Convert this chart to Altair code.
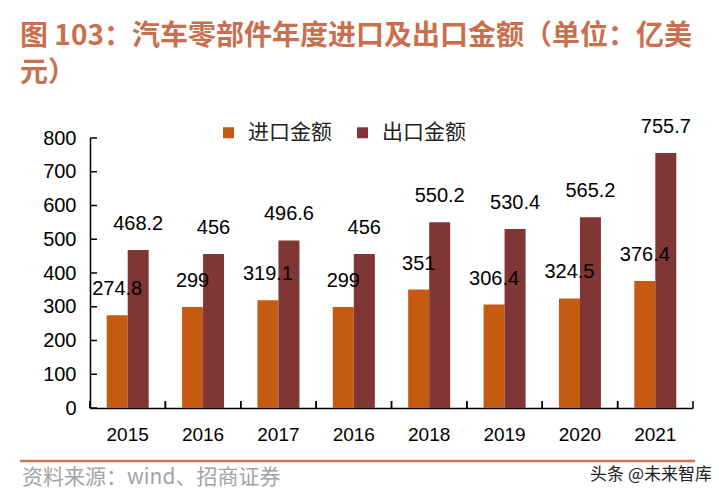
import altair as alt
import pandas as pd

# ---- data ----
years = ["2015", "2016", "2017", "2016", "2018", "2019", "2020", "2021"]
imports = [274.8, 299, 319.1, 299, 351, 306.4, 324.5, 376.4]
exports = [468.2, 456, 496.6, 456, 550.2, 530.4, 565.2, 755.7]
series = ["进口金额", "出口金额"]
y_ticks = [0, 100, 200, 300, 400, 500, 600, 700, 800]

title_lines = ["图 103：汽车零部件年度进口及出口金额（单位：亿美", "元）"]
source_text = "资料来源：wind、招商证券"
watermark = "头条 @未来智库"

# ---- styling ----
ORANGE = "#C55A11"
RED = "#803634"
TITLE_C = "#C96F4E"
W, H = 603, 270
NUM_FONT = "Liberation Sans"
CJK_FONT = "Noto Sans CJK SC"

rows = []
for i, yr in enumerate(years):
    rows.append({"idx": i, "year": yr, "series": series[0], "value": imports[i],
                 "label": f"{imports[i]:g}"})
    rows.append({"idx": i, "year": yr, "series": series[1], "value": exports[i],
                 "label": f"{exports[i]:g}"})
df = pd.DataFrame(rows)

label_expr = "[" + ",".join(f"'{y}'" for y in years) + "][datum.value]"

x_scale = alt.Scale(paddingInner=0, paddingOuter=0)
y_scale = alt.Scale(domain=[0, 800], nice=False)
off_scale = alt.Scale(domain=series, paddingOuter=0.795, paddingInner=0)

x_axis = alt.Axis(labelExpr=label_expr, labelAngle=0, tickSize=0, ticks=False,
                  labelFontSize=19, labelFont=NUM_FONT, labelColor="black",
                  labelPadding=17, domainColor="black", domainWidth=1.5,
                  grid=False, title=None)
y_axis = alt.Axis(values=y_ticks, tickSize=0, ticks=False, labelFontSize=20,
                  labelFont=NUM_FONT, labelColor="black", labelPadding=14,
                  domainColor="black", domainWidth=1.5, grid=False, title=None)

base = alt.Chart(df)

bars = base.mark_bar().encode(
    x=alt.X("idx:O", scale=x_scale, axis=x_axis),
    xOffset=alt.XOffset("series:N", scale=off_scale),
    y=alt.Y("value:Q", scale=y_scale, axis=y_axis),
    color=alt.Color("series:N", scale=alt.Scale(domain=series, range=[ORANGE, RED]),
                    legend=alt.Legend(orient="none", legendX=128, legendY=-16,
                                      direction="horizontal", title=None,
                                      symbolType="square", symbolSize=121,
                                      symbolStrokeWidth=0,
                                      labelFontSize=21, labelFont=CJK_FONT,
                                      labelColor="#222222", columnPadding=20,
                                      labelOffset=9)),
)

texts = base.mark_text(dy=-20, baseline="alphabetic", fontSize=20, font=NUM_FONT,
                       color="black").encode(
    x=alt.X("idx:O", scale=x_scale, axis=x_axis),
    xOffset=alt.XOffset("series:N", scale=off_scale),
    y=alt.Y("value:Q", scale=y_scale, axis=y_axis),
    text="label:N",
)

ytick = alt.Chart(pd.DataFrame({"value": y_ticks})).mark_rule(color="black", strokeWidth=1.5).encode(
    y=alt.Y("value:Q", scale=y_scale, axis=y_axis),
    x=alt.value(0), x2=alt.value(7),
)

xtick = base.mark_rule(color="black", strokeWidth=1.5).encode(
    x=alt.X("idx:O", scale=x_scale, axis=x_axis, bandPosition=0),
    y=alt.value(H), y2=alt.value(H - 7),
)

one = pd.DataFrame({"k": [0]})
xtick_end = alt.Chart(one).mark_rule(color="black", strokeWidth=1.5).encode(
    x=alt.value(W), y=alt.value(H), y2=alt.value(H - 7),
)

bottom_line = alt.Chart(one).mark_rule(color="#CF7657", strokeWidth=2.5).encode(
    x=alt.value(-70), x2=alt.value(605), y=alt.value(323),
)

src = alt.Chart(one).mark_text(align="left", baseline="middle", fontSize=21,
                               font=CJK_FONT, color="#A3A3A3").encode(
    x=alt.value(-68), y=alt.value(340), text=alt.value(source_text),
)

wm = alt.Chart(one).mark_text(align="right", baseline="middle", fontSize=17,
                              font=CJK_FONT, color="#222222").encode(
    x=alt.value(622), y=alt.value(337), text=alt.value(watermark),
)

chart = alt.layer(bars, texts, ytick, xtick, xtick_end, bottom_line, src, wm).properties(
    width=W, height=H,
    autosize="none",
    padding={"left": 82, "top": 130, "right": 18, "bottom": 82},
    title=alt.TitleParams(text=title_lines, anchor="start", frame="group",
                          fontSize=28, font=CJK_FONT, fontWeight="bold",
                          color=TITLE_C, dx=-70, offset=29, lineHeight=37),
).configure_view(stroke=None)

chart.save("out.html", embed_options={"renderer": "svg", "actions": False})
